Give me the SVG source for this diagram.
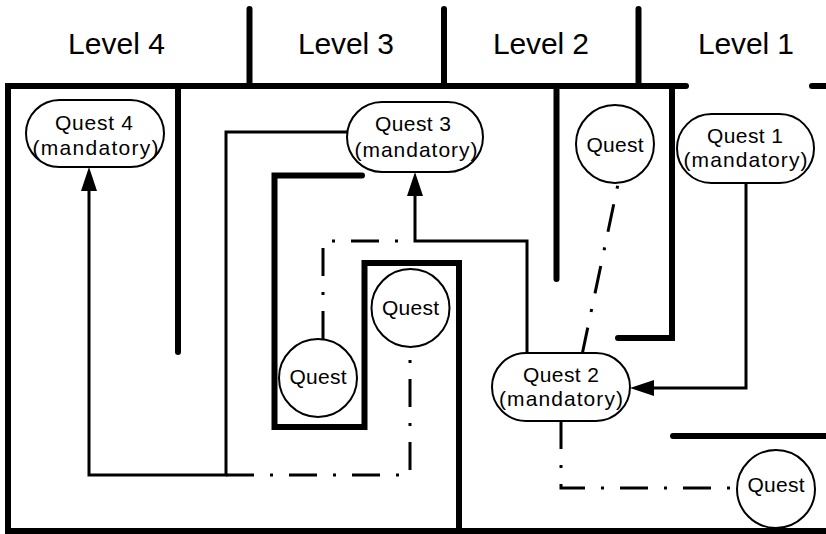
<svg xmlns="http://www.w3.org/2000/svg" width="826" height="534" viewBox="0 0 826 534">
  <style>
    .wall { fill: none; stroke: #000; stroke-width: 6; stroke-linecap: round; stroke-linejoin: miter; }
    .wall-sq { fill: none; stroke: #000; stroke-width: 6; stroke-linecap: butt; stroke-linejoin: miter; }
    .node { fill: #fff; stroke: #000; stroke-width: 2; }
    .link { fill: none; stroke: #000; stroke-width: 3; stroke-linejoin: miter; }
    .opt { fill: none; stroke: #000; stroke-width: 3; stroke-dasharray: 28 16 3 16; stroke-linejoin: miter; }
    .lvl { font-family: "Liberation Sans", Arial, sans-serif; font-size: 30px; fill: #000; text-anchor: middle; }
    .lbl { font-family: "Liberation Sans", Arial, sans-serif; font-size: 21px; fill: #000; text-anchor: middle; }
  </style>
  <defs>
    <marker id="arrow" markerUnits="userSpaceOnUse" markerWidth="24" markerHeight="16" refX="10" refY="8" orient="auto">
      <path d="M0,0 L24,8 L0,16 z" fill="#000"/>
    </marker>
  </defs>

  <rect width="826" height="534" fill="#fff"/>

  <!-- level headings -->
  <g id="levels">
    <text class="lvl" x="116.5" y="54" textLength="97" lengthAdjust="spacing">Level 4</text>
    <text class="lvl" x="346" y="54" textLength="96" lengthAdjust="spacing">Level 3</text>
    <text class="lvl" x="541" y="54" textLength="96" lengthAdjust="spacing">Level 2</text>
    <text class="lvl" x="746" y="54" textLength="96" lengthAdjust="spacing">Level 1</text>
  </g>

  <!-- maze walls -->
  <g id="walls">
    <line class="wall" x1="249.5" y1="9" x2="249.5" y2="86"/>
    <line class="wall" x1="444" y1="9" x2="444" y2="86"/>
    <line class="wall" x1="638.5" y1="9" x2="638.5" y2="86"/>
    <polyline class="wall-sq" points="686,86 8,86 8,531 826,531"/>
    <path class="wall" d="M686,86 h0"/>
    <line class="wall" x1="812" y1="86" x2="830" y2="86"/>
    <line class="wall" x1="178" y1="86" x2="178" y2="352"/>
    <line class="wall" x1="556.5" y1="86" x2="556.5" y2="279"/>
    <polyline class="wall" points="672,86 672,338 618,338"/>
    <polyline class="wall" points="362,175.5 274.5,175.5 274.5,427 364.5,427 364.5,263 459,263 459,540"/>
    <line class="wall" x1="673" y1="436" x2="830" y2="436"/>
  </g>

  <!-- connectors -->
  <g id="connectors">
    <path class="link" d="M347,132 H226 V475 H89 V181" marker-end="url(#arrow)"/>
    <path class="link" d="M527,353 V241 H415 V186" marker-end="url(#arrow)"/>
    <path class="link" d="M746,183 V388 H644" marker-end="url(#arrow)"/>
    <path class="opt" d="M226,475 H410 V348"/>
    <path class="opt" d="M323,339 V241 H400"/>
    <path class="opt" d="M582,355 L618,184"/>
    <path class="opt" d="M561,421 V488 H737"/>
  </g>

  <!-- mandatory quests -->
  <g id="quest4">
    <rect class="node" x="26" y="100" width="138" height="67" rx="33.5"/>
    <text class="lbl" x="94" y="130" textLength="78" lengthAdjust="spacing">Quest 4</text>
    <text class="lbl" x="95.5" y="155" textLength="126" lengthAdjust="spacing">(mandatory)</text>
  </g>
  <g id="quest3">
    <rect class="node" x="347" y="102" width="136" height="70" rx="35"/>
    <text class="lbl" x="413" y="131" textLength="76" lengthAdjust="spacing">Quest 3</text>
    <text class="lbl" x="416" y="157" textLength="123" lengthAdjust="spacing">(mandatory)</text>
  </g>
  <g id="quest2">
    <rect class="node" x="492" y="353" width="138" height="68" rx="34"/>
    <text class="lbl" x="561" y="382" textLength="76" lengthAdjust="spacing">Quest 2</text>
    <text class="lbl" x="561" y="406" textLength="124" lengthAdjust="spacing">(mandatory)</text>
  </g>
  <g id="quest1">
    <rect class="node" x="677" y="114" width="137" height="69" rx="34.5"/>
    <text class="lbl" x="745" y="143" textLength="76" lengthAdjust="spacing">Quest 1</text>
    <text class="lbl" x="745.5" y="167" textLength="124" lengthAdjust="spacing">(mandatory)</text>
  </g>

  <!-- optional quests -->
  <g id="side-quest-a">
    <circle class="node" cx="615" cy="144" r="39"/>
    <text class="lbl" x="615" y="152" textLength="57" lengthAdjust="spacing">Quest</text>
  </g>
  <g id="side-quest-b">
    <circle class="node" cx="410.5" cy="308" r="39"/>
    <text class="lbl" x="410.5" y="315" textLength="57" lengthAdjust="spacing">Quest</text>
  </g>
  <g id="side-quest-c">
    <circle class="node" cx="318" cy="378" r="39"/>
    <text class="lbl" x="318" y="384" textLength="57" lengthAdjust="spacing">Quest</text>
  </g>
  <g id="side-quest-d">
    <circle class="node" cx="776" cy="489" r="39"/>
    <text class="lbl" x="776" y="492" textLength="57" lengthAdjust="spacing">Quest</text>
  </g>
</svg>
